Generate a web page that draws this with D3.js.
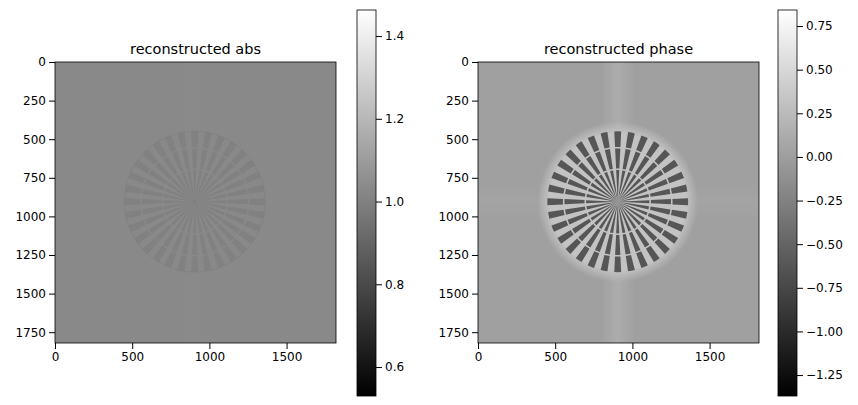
<!DOCTYPE html>
<html><head><meta charset="utf-8">
<script src="https://cdn.jsdelivr.net/npm/d3@7"></script>
<style>body{margin:0;background:#fff}text{font-family:"DejaVu Sans",sans-serif}</style>
</head><body><svg id="c" width="858" height="405"></svg>
<script>
// image extent and ticks
var extent = 1820
var axisTicks = [0, 500, 1000, 1500]
var yTicks = [0, 250, 500, 750, 1000, 1250, 1500, 1750]
// siemens star
var starCenter = [905, 905]
var spokeCount = 32
var ringEdges = [[0, 205], [215, 345], [355, 456]]
// value ranges & levels per panel
var panels = [
  {title: "reconstructed abs", x: 55, cbx: 357, vmin: 0.53, vmax: 1.463,
   cbTicks: [0.6, 0.8, 1.0, 1.2, 1.4], bg: 1.03, spoke: 0.98, halo: 1.03, band: 1.035, spokeOpacity: 0.6},
  {title: "reconstructed phase", x: 478, cbx: 778, vmin: -1.37, vmax: 0.842,
   cbTicks: [-1.25, -1.0, -0.75, -0.5, -0.25, 0.0, 0.25, 0.5, 0.75], bg: 0.02, spoke: -0.62, halo: 0.32, band: 0.12, spokeOpacity: 1}
]
var axTop = 62, axSize = 281, cbTop = 10, cbH = 386, cbW = 19

var svg = d3.select("#c")
var defs = svg.append("defs")
var gl = defs.append("linearGradient").attr("id", "gray").attr("x1", 0).attr("y1", 1).attr("x2", 0).attr("y2", 0)
gl.append("stop").attr("offset", 0).attr("stop-color", "#000")
gl.append("stop").attr("offset", 1).attr("stop-color", "#fff")

panels.forEach(function(p, pi) {
  var col = d3.scaleLinear().domain([p.vmin, p.vmax]).range(["#000", "#fff"]).clamp(true)
  var x = d3.scaleLinear().domain([0, extent]).range([0, axSize])
  var y = d3.scaleLinear().domain([0, extent]).range([0, axSize])
  var g = svg.append("g").attr("transform", "translate(" + p.x + "," + axTop + ")")
  var cp = defs.append("clipPath").attr("id", "clip" + pi)
  cp.append("rect").attr("width", axSize).attr("height", axSize)
  var img = g.append("g").attr("clip-path", "url(#clip" + pi + ")")
  img.append("rect").attr("width", axSize).attr("height", axSize).attr("fill", col(p.bg))
  // halo
  var rg = defs.append("radialGradient").attr("id", "halo" + pi)
  rg.append("stop").attr("offset", 0.85).attr("stop-color", col(p.halo)).attr("stop-opacity", 1)
  rg.append("stop").attr("offset", 1).attr("stop-color", col(p.halo)).attr("stop-opacity", 0)
  // bands
  var bg = defs.append("linearGradient").attr("id", "band" + pi)
  bg.append("stop").attr("offset", 0).attr("stop-color", col(p.band)).attr("stop-opacity", 0)
  bg.append("stop").attr("offset", 0.5).attr("stop-color", col(p.band)).attr("stop-opacity", 1)
  bg.append("stop").attr("offset", 1).attr("stop-color", col(p.band)).attr("stop-opacity", 0)
  img.append("rect").attr("x", x(starCenter[0] - 110)).attr("width", x(220)).attr("y", 0).attr("height", axSize)
    .attr("fill", "url(#band" + pi + ")")
  var bgh = defs.append("linearGradient").attr("id", "bandh" + pi).attr("x1", 0).attr("y1", 0).attr("x2", 0).attr("y2", 1)
  bgh.append("stop").attr("offset", 0).attr("stop-color", col(p.band)).attr("stop-opacity", 0)
  bgh.append("stop").attr("offset", 0.5).attr("stop-color", col(p.band)).attr("stop-opacity", 0.3)
  bgh.append("stop").attr("offset", 1).attr("stop-color", col(p.band)).attr("stop-opacity", 0)
  img.append("rect").attr("y", y(starCenter[1] - 130)).attr("height", y(260)).attr("x", 0).attr("width", axSize)
    .attr("fill", "url(#bandh" + pi + ")")
  img.append("circle").attr("cx", x(starCenter[0])).attr("cy", y(starCenter[1])).attr("r", x(520))
    .attr("fill", "url(#halo" + pi + ")")
  var arc = d3.arc()
  var sp = img.append("g").attr("transform", "translate(" + x(starCenter[0]) + "," + y(starCenter[1]) + ")")
  var step = 2 * Math.PI / spokeCount
  d3.range(spokeCount).forEach(function(i) {
    ringEdges.forEach(function(r) {
      sp.append("path").attr("d", arc({innerRadius: x(r[0]), outerRadius: x(r[1]),
        startAngle: i * step - step / 4, endAngle: i * step + step / 4}))
        .attr("fill", col(p.spoke)).attr("opacity", p.spokeOpacity)
    })
  })
  if (pi === 0) {
    sp.append("circle").attr("r", x(456)).attr("fill", "none").attr("stroke", col(0.99)).attr("stroke-width", 0.6)
  }
  g.append("rect").attr("width", axSize).attr("height", axSize).attr("fill", "none").attr("stroke", "#000").attr("stroke-width", 0.8)
  g.append("g").attr("transform", "translate(0," + axSize + ")")
    .call(d3.axisBottom(x).tickValues(axisTicks).tickFormat(d3.format("d")).tickSizeOuter(0))
  g.append("g").call(d3.axisLeft(y).tickValues(yTicks).tickFormat(d3.format("d")).tickSizeOuter(0))
  g.append("text").attr("x", axSize / 2).attr("y", -8).attr("text-anchor", "middle").attr("font-size", 14.5).text(p.title)

  // colorbar
  var cb = svg.append("g").attr("transform", "translate(" + p.cbx + "," + cbTop + ")")
  cb.append("rect").attr("width", cbW).attr("height", cbH).attr("fill", "url(#gray)")
  cb.append("rect").attr("width", cbW).attr("height", cbH).attr("fill", "none").attr("stroke", "#000").attr("stroke-width", 0.8)
  var cy = d3.scaleLinear().domain([p.vmin, p.vmax]).range([cbH, 0])
  cb.append("g").attr("transform", "translate(" + cbW + ",0)")
    .call(d3.axisRight(cy).tickValues(p.cbTicks).tickFormat(d3.format(".2f")).tickSizeOuter(0))
  if (pi === 0) cb.selectAll(".tick text").text(function(d) { return d3.format(".1f")(d) })
})
svg.selectAll(".domain").remove()
svg.selectAll(".tick text").attr("font-size", 12).attr("font-family", "DejaVu Sans").attr("fill", "#000")
svg.selectAll(".tick line").attr("stroke", "#000")
</script></body></html>
